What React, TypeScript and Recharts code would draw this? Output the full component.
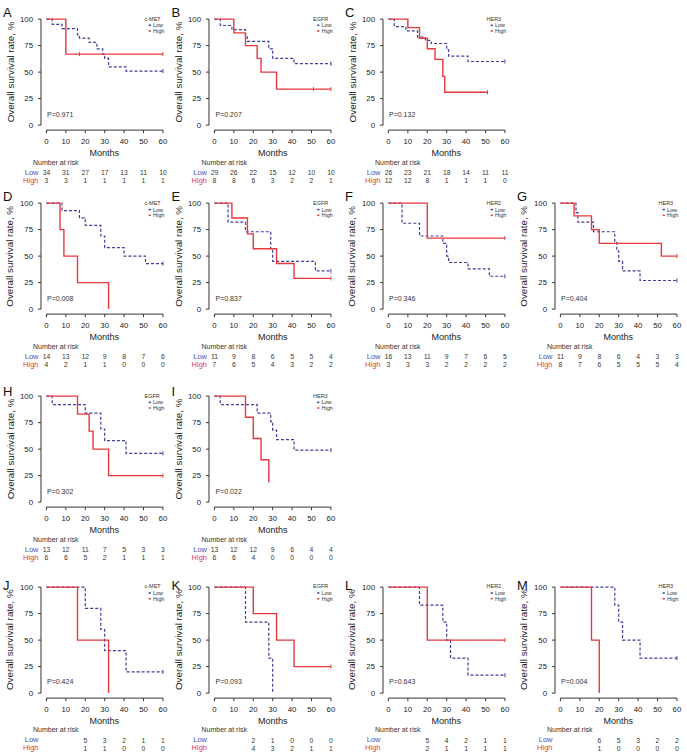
import React from "react";
import { ComposedChart, Line, XAxis, YAxis, ReferenceLine } from "recharts";

const MONTHS = [0, 10, 20, 30, 40, 50, 60];
const SURV_TICKS = [0, 25, 50, 75, 100];

// [month, survival %, censored?]
type Pt = [number, number, number?];

// A: c-MET, cohort 1
const aLow: Pt[] = [[0, 100], [3, 95], [8, 91], [16, 85], [17, 82], [22, 78], [26, 72], [29, 67], [30, 63], [32, 55], [41, 51], [60, 51, 1]];
const aHigh: Pt[] = [[0, 100], [10, 67], [17, 67, 1], [60, 67, 1]];
const aRiskLow = [34, 31, 27, 17, 13, 11, 10];
const aRiskHigh = [3, 3, 1, 1, 1, 1, 1];

// B: EGFR, cohort 1
const bLow: Pt[] = [[0, 100], [3, 94], [9, 90], [16, 83], [17, 79], [28, 72], [30, 63], [41, 58], [60, 58, 1]];
const bHigh: Pt[] = [[0, 100], [10, 87], [16, 75], [22, 63], [24, 50], [32, 34], [51, 34, 1], [60, 34, 1]];
const bRiskLow = [29, 26, 22, 15, 12, 10, 10];
const bRiskHigh = [8, 8, 6, 3, 2, 2, 1];

// C: HER3, cohort 1
const cLow: Pt[] = [[0, 100], [3, 93], [9, 89], [15, 83], [19, 80], [22, 77], [30, 71], [31, 65], [41, 60], [60, 60, 1]];
const cHigh: Pt[] = [[0, 100], [10, 92], [16, 82], [20, 72], [24, 62], [28, 46], [29, 31], [51, 31, 1]];
const cRiskLow = [26, 23, 21, 18, 14, 11, 11];
const cRiskHigh = [12, 12, 8, 1, 1, 1, 0];

// D: c-MET, cohort 2
const dLow: Pt[] = [[0, 100], [8, 93], [17, 86], [20, 79], [28, 69], [30, 58], [40, 50], [51, 43], [60, 43, 1]];
const dHigh: Pt[] = [[0, 100], [7, 75], [9, 50], [16, 25], [32, 0]];
const dRiskLow = [14, 13, 12, 9, 8, 7, 6];
const dRiskHigh = [4, 2, 1, 1, 0, 0, 0];

// E: EGFR, cohort 2
const eLow: Pt[] = [[0, 100], [7, 82], [16, 73], [29, 57], [30, 45], [52, 36], [60, 36, 1]];
const eHigh: Pt[] = [[0, 100], [9, 86], [17, 71], [20, 57], [32, 43], [41, 29], [60, 29, 1]];
const eRiskLow = [11, 9, 8, 6, 5, 5, 4];
const eRiskHigh = [7, 6, 5, 4, 3, 2, 2];

// F: HER2, cohort 2
const fLow: Pt[] = [[0, 100], [7, 81], [16, 69], [28, 62], [30, 50], [31, 44], [41, 38], [52, 31], [60, 31, 1]];
const fHigh: Pt[] = [[0, 100], [20, 67], [60, 67, 1]];
const fRiskLow = [16, 13, 11, 9, 7, 6, 5];
const fRiskHigh = [3, 3, 3, 2, 2, 2, 2];

// G: HER3, cohort 2
const gLow: Pt[] = [[0, 100], [8, 91], [9, 82], [17, 73], [28, 64], [29, 55], [30, 45], [32, 36], [41, 27], [60, 27, 1]];
const gHigh: Pt[] = [[0, 100], [7, 88], [16, 75], [20, 62], [52, 50], [60, 50, 1]];
const gRiskLow = [11, 9, 8, 6, 4, 3, 3];
const gRiskHigh = [8, 7, 6, 5, 5, 5, 4];

// H: EGFR, cohort 3
const hLow: Pt[] = [[0, 100], [3, 92], [20, 84], [28, 69], [30, 58], [41, 46], [60, 46, 1]];
const hHigh: Pt[] = [[0, 100], [16, 83], [22, 67], [24, 50], [32, 25], [60, 25, 1]];
const hRiskLow = [13, 12, 11, 7, 5, 3, 3];
const hRiskHigh = [6, 6, 5, 2, 1, 1, 1];

// I: HER3, cohort 3
const iLow: Pt[] = [[0, 100], [3, 92], [22, 84], [29, 76], [30, 68], [32, 59], [41, 49], [60, 49, 1]];
const iHigh: Pt[] = [[0, 100], [16, 80], [20, 60], [24, 40], [28, 20, 1]];
const iRiskLow = [13, 12, 12, 9, 6, 4, 4];
const iRiskHigh = [6, 6, 4, 0, 0, 0, 0];

// J: c-MET, cohort 4
const jLow: Pt[] = [[0, 100], [20, 80], [28, 60], [30, 40], [41, 20], [60, 20, 1]];
const jHigh: Pt[] = [[0, 100], [16, 50], [32, 0]];
const jRiskLow = [null, null, 5, 3, 2, 1, 1];
const jRiskHigh = [null, null, 1, 1, 0, 0, 0];

// K: EGFR, cohort 4
const kLow: Pt[] = [[0, 100], [16, 67], [28, 33], [30, 0]];
const kHigh: Pt[] = [[0, 100], [20, 75], [32, 50], [41, 25], [60, 25, 1]];
const kRiskLow = [null, null, 2, 1, 0, 0, 0];
const kRiskHigh = [null, null, 4, 3, 2, 1, 1];

// L: HER2, cohort 4
const lLow: Pt[] = [[0, 100], [16, 83], [28, 67], [30, 50], [32, 33], [41, 17], [60, 17, 1]];
const lHigh: Pt[] = [[0, 100], [20, 50], [60, 50, 1]];
const lRiskLow = [null, null, 5, 4, 2, 1, 1];
const lRiskHigh = [null, null, 2, 1, 1, 1, 1];

// M: HER3, cohort 4
const mLow: Pt[] = [[0, 100], [28, 83], [30, 67], [32, 50], [41, 33], [60, 33, 1]];
const mHigh: Pt[] = [[0, 100], [16, 50], [20, 0]];
const mRiskLow = [null, null, 6, 5, 3, 2, 2];
const mRiskHigh = [null, null, 1, 0, 0, 0, 0];

const RED = "#e8383d";
const BLUE = "#3c3f9c";
const LOW_TXT = "#4d4fb3";
const TXT = "#222";
const AXIS = "#333";
const FONT = "'Liberation Sans', Arial, Helvetica, sans-serif";

// layout
const COLS = [46, 214.5, 388, 560];
const ROWS = [19, 203.3, 396, 586.7];
const LETTER_DY = [-1.7, -2, 0.3, 3];
const K = 116.5 / 60;
const KY = 1.06;
const X_MIN = -2.8;
const X_MAX = 61.5;
const Y_MIN = -4.7;
const Y_MAX = 102;
const PW = (X_MAX - X_MIN) * K;
const PH = (Y_MAX - Y_MIN) * KY;
const YW = 44;
const MT = 14;
const XH = 62;
const MR = 22;

const panels = [
  { id: "A", col: 0, row: 0, gene: "c-MET", p: "0.971", low: aLow, high: aHigh, riskLow: aRiskLow, riskHigh: aRiskHigh },
  { id: "B", col: 1, row: 0, gene: "EGFR", p: "0.207", low: bLow, high: bHigh, riskLow: bRiskLow, riskHigh: bRiskHigh },
  { id: "C", col: 2, row: 0, gene: "HER3", p: "0.132", low: cLow, high: cHigh, riskLow: cRiskLow, riskHigh: cRiskHigh },
  { id: "D", col: 0, row: 1, gene: "c-MET", p: "0.008", low: dLow, high: dHigh, riskLow: dRiskLow, riskHigh: dRiskHigh },
  { id: "E", col: 1, row: 1, gene: "EGFR", p: "0.837", low: eLow, high: eHigh, riskLow: eRiskLow, riskHigh: eRiskHigh },
  { id: "F", col: 2, row: 1, gene: "HER2", p: "0.346", low: fLow, high: fHigh, riskLow: fRiskLow, riskHigh: fRiskHigh },
  { id: "G", col: 3, row: 1, gene: "HER3", p: "0.404", low: gLow, high: gHigh, riskLow: gRiskLow, riskHigh: gRiskHigh },
  { id: "H", col: 0, row: 2, gene: "EGFR", p: "0.302", low: hLow, high: hHigh, riskLow: hRiskLow, riskHigh: hRiskHigh },
  { id: "I", col: 1, row: 2, gene: "HER3", p: "0.022", low: iLow, high: iHigh, riskLow: iRiskLow, riskHigh: iRiskHigh },
  { id: "J", col: 0, row: 3, gene: "c-MET", p: "0.424", low: jLow, high: jHigh, riskLow: jRiskLow, riskHigh: jRiskHigh },
  { id: "K", col: 1, row: 3, gene: "EGFR", p: "0.093", low: kLow, high: kHigh, riskLow: kRiskLow, riskHigh: kRiskHigh },
  { id: "L", col: 2, row: 3, gene: "HER2", p: "0.643", low: lLow, high: lHigh, riskLow: lRiskLow, riskHigh: lRiskHigh },
  { id: "M", col: 3, row: 3, gene: "HER3", p: "0.004", low: mLow, high: mHigh, riskLow: mRiskLow, riskHigh: mRiskHigh },
];

const toData = (pts: Pt[]) => pts.map(([t, s, c]) => ({ t, s, c: !!c }));

function censorDot(color: string) {
  return (props: any) => {
    const { cx, cy, payload, index } = props;
    if (!payload || !payload.c) return <g key={`d${index}`} />;
    return (
      <g key={`d${index}`}>
        <line x1={cx} x2={cx} y1={cy - 2} y2={cy + 2} stroke={color} strokeWidth={1} />
      </g>
    );
  };
}

// month tick plus the number-at-risk values under it
function RiskTick(props: any) {
  const { x, y, payload, low, high } = props;
  const i = MONTHS.indexOf(payload.value);
  return (
    <g fontFamily={FONT}>
      <text x={x} y={y + 9} textAnchor="middle" fontSize={7.8} fill={TXT}>{payload.value}</text>
      {low[i] != null && (
        <text x={x} y={y + 39.5} textAnchor="middle" fontSize={6.8} fill="#333">{low[i]}</text>
      )}
      {high[i] != null && (
        <text x={x} y={y + 47.5} textAnchor="middle" fontSize={6.8} fill="#333">{high[i]}</text>
      )}
    </g>
  );
}

function Panel({ p }: { p: any }) {
  const x0 = COLS[p.col];
  const y100 = ROWS[p.row];
  const plotLeft = x0 + X_MIN * K;
  const plotTop = y100 - (Y_MAX - 100) * KY;
  const W = YW + PW + MR;
  const H = MT + PH + XH;
  return (
    <div style={{ position: "absolute", left: plotLeft - YW, top: plotTop - MT, width: W, height: H }}>
      <ComposedChart width={W} height={H} margin={{ top: MT, right: MR, bottom: 0, left: 0 }}>
        <XAxis
          type="number"
          dataKey="t"
          domain={[X_MIN, X_MAX]}
          allowDataOverflow
          ticks={MONTHS}
          interval={0}
          axisLine={false}
          tickSize={3}
          tickMargin={2}
          height={XH}
          tickLine={{ stroke: AXIS }}
          tick={<RiskTick low={p.riskLow} high={p.riskHigh} />}
        />
        <YAxis
          type="number"
          domain={[Y_MIN, Y_MAX]}
          allowDataOverflow
          ticks={SURV_TICKS}
          interval={0}
          width={YW}
          axisLine={false}
          tickSize={3}
          tickMargin={5}
          tickLine={{ stroke: AXIS }}
          tick={{ fontSize: 7.8, fill: TXT, fontFamily: FONT }}
        />
        <ReferenceLine segment={[{ x: 0, y: Y_MIN }, { x: 60, y: Y_MIN }]} stroke={AXIS} ifOverflow="visible" />
        <ReferenceLine segment={[{ x: X_MIN, y: 0 }, { x: X_MIN, y: 100 }]} stroke={AXIS} ifOverflow="visible" />
        <Line
          data={toData(p.low)}
          dataKey="s"
          type="stepAfter"
          stroke={BLUE}
          strokeWidth={1.2}
          strokeDasharray="3 2"
          dot={censorDot(BLUE)}
          activeDot={false}
          isAnimationActive={false}
        />
        <Line
          data={toData(p.high)}
          dataKey="s"
          type="stepAfter"
          stroke={RED}
          strokeWidth={1.4}
          dot={censorDot(RED)}
          activeDot={false}
          isAnimationActive={false}
        />
      </ComposedChart>
    </div>
  );
}

function Labels({ p }: { p: any }) {
  const x0 = COLS[p.col];
  const x60 = x0 + 60 * K;
  const y100 = ROWS[p.row];
  const y0 = y100 + 100 * KY;
  const yMid = (y100 + y0) / 2;
  return (
    <g fontFamily={FONT}>
      <text x={x0 - 43} y={y100 + LETTER_DY[p.row]} fontSize={13} fill="#111">{p.id}</text>
      <text
        x={x0 - 36}
        y={yMid}
        fontSize={9.8}
        fill={TXT}
        textAnchor="middle"
        dominantBaseline="central"
        transform={`rotate(-90 ${x0 - 36} ${yMid})`}
      >
        Overall survival rate, %
      </text>
      <text x={x0 + 30 * K} y={y0 + 31} fontSize={9} fill={TXT} textAnchor="middle">Months</text>
      <text x={x0 + 1} y={y0 - 8.5} fontSize={7} fill="#333">P={p.p}</text>
      <text x={x0 - 13} y={y0 + 39.5} fontSize={7} fill="#333">Number at risk</text>
      <text x={x0 - 7.5} y={y0 + 49.5} fontSize={7.5} fill={LOW_TXT} textAnchor="end">Low</text>
      <text x={x0 - 7.5} y={y0 + 57.5} fontSize={7.5} fill={RED} textAnchor="end">High</text>
      <text x={x60 - 18} y={y100 + 1.5} fontSize={5.5} fill="#333">{p.gene}</text>
      <line x1={x60 - 14} x2={x60 - 11.5} y1={y100 + 6.3} y2={y100 + 6.3} stroke={BLUE} strokeWidth={1} />
      <line x1={x60 - 12.7} x2={x60 - 12.7} y1={y100 + 5.3} y2={y100 + 7.3} stroke={BLUE} strokeWidth={0.8} />
      <text x={x60 - 9.5} y={y100 + 8.3} fontSize={5.5} fill="#333">Low</text>
      <line x1={x60 - 14} x2={x60 - 11.5} y1={y100 + 12} y2={y100 + 12} stroke={RED} strokeWidth={1} />
      <line x1={x60 - 12.7} x2={x60 - 12.7} y1={y100 + 11} y2={y100 + 13} stroke={RED} strokeWidth={0.8} />
      <text x={x60 - 9.5} y={y100 + 14} fontSize={5.5} fill="#333">High</text>
    </g>
  );
}

export default function App() {
  return (
    <div style={{ position: "absolute", left: 0, top: 0, width: 687, height: 753, overflow: "hidden", background: "#fff" }}>
      {panels.map((p) => (
        <Panel key={p.id} p={p} />
      ))}
      <svg width={687} height={753} style={{ position: "absolute", left: 0, top: 0, pointerEvents: "none" }}>
        {panels.map((p) => (
          <Labels key={p.id} p={p} />
        ))}
      </svg>
    </div>
  );
}
